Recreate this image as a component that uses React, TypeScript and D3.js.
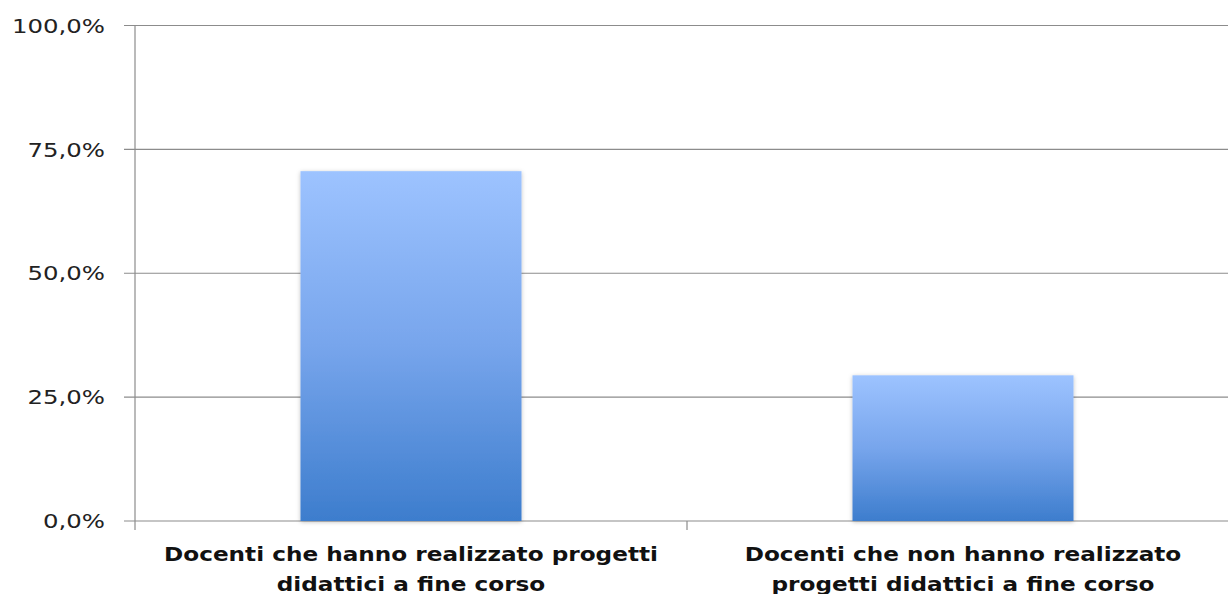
import React from "react";
import * as d3 from "d3";

const categories: string[][] = [
  ["Docenti che hanno realizzato progetti", "didattici a fine corso"],
  ["Docenti che non hanno realizzato", "progetti didattici a fine corso"],
];
const values: number[] = [70.6, 29.4];
const yTicks: number[] = [0, 25, 50, 75, 100];

const W = 1228;
const H = 594;
const left = 135;
const right = 1239;
const top = 25.5;
const bottom = 521;

export default function App() {
  const x = d3
    .scaleBand<number>()
    .domain(values.map((_, i) => i))
    .range([left, right])
    .paddingInner(0.6)
    .paddingOuter(0.3);
  const y = d3.scaleLinear().domain([0, 100]).range([bottom, top]);
  const fmt = (v: number) => v.toFixed(1).replace(".", ",") + "%";
  const step = x.step();
  const bw = 221;
  return (
    <svg
      width={W}
      height={H}
      style={{ position: "absolute", left: 0, top: 0, background: "#fff" }}
      fontFamily="'DejaVu Sans', Verdana, sans-serif"
    >
      <defs>
        <linearGradient id="bg" x1="0" y1="0" x2="0" y2="1">
          <stop offset="0" stopColor="#9DC3FF" />
          <stop offset="0.5" stopColor="#77A5EC" />
          <stop offset="1" stopColor="#3D7DCD" />
        </linearGradient>
        <filter id="sh" x="-10%" y="-10%" width="120%" height="120%">
          <feDropShadow dx="0" dy="1" stdDeviation="2" floodColor="#000" floodOpacity="0.25" />
        </filter>
      </defs>
      {yTicks.map((t) => (
        <g key={t}>
          <line x1={124} x2={W} y1={y(t)} y2={y(t)} stroke="#8c8c8c" strokeWidth={1.2} />
          <g transform={`translate(105,${y(t)}) scale(1.22,1)`}>
            <text x={0} y={0} dy="0.36em" textAnchor="end" fontSize={20} fill="#222">
              {fmt(t)}
            </text>
          </g>
        </g>
      ))}
      <line x1={left} x2={left} y1={top} y2={bottom + 9} stroke="#8c8c8c" strokeWidth={1.2} />
      {values.map((v, i) => {
        const cx = x(i)! + x.bandwidth() / 2;
        return (
          <rect
            key={i}
            x={cx - bw / 2}
            y={y(v)}
            width={bw}
            height={y(0) - y(v)}
            fill="url(#bg)"
            filter="url(#sh)"
          />
        );
      })}
      {values.slice(1).map((_, i) => {
        const bx = x(i)! + x.bandwidth() / 2 + step / 2;
        return <line key={i} x1={bx} x2={bx} y1={bottom} y2={bottom + 9} stroke="#8c8c8c" strokeWidth={1.2} />;
      })}
      {categories.map((lines, i) => {
        const cx = x(i)! + x.bandwidth() / 2;
        return (
          <g key={i} transform={`translate(${cx},0) scale(1.22,1)`}>
            <text textAnchor="middle" fontSize={19} fontWeight="bold" fill="#111">
              {lines.map((l, j) => (
                <tspan key={j} x={0} y={561.5 + j * 30}>
                  {l}
                </tspan>
              ))}
            </text>
          </g>
        );
      })}
    </svg>
  );
}
